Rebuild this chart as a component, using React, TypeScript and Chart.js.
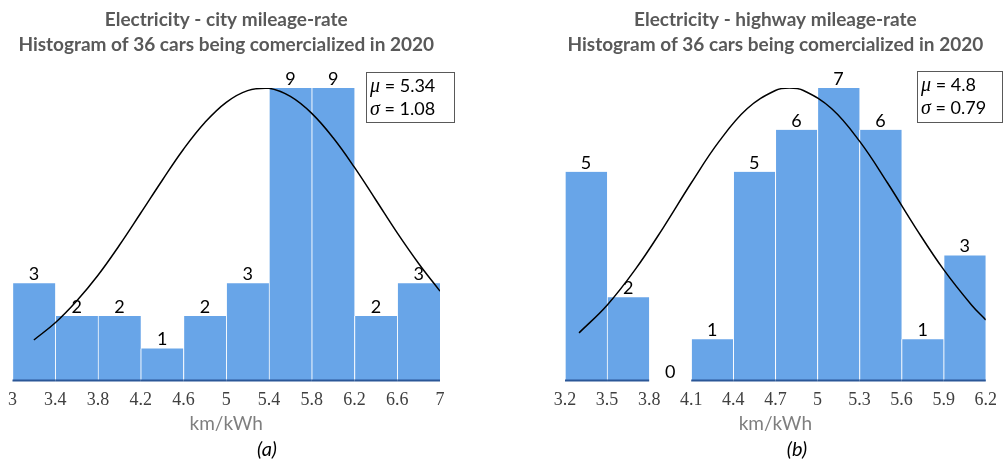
import React, { useEffect, useRef } from "react";
import { Chart, registerables } from "chart.js";

Chart.register(...registerables);

// ---------- Data: (a) city mileage-rate ----------
const cityBinCenters = [3.2, 3.6, 4.0, 4.4, 4.8, 5.2, 5.6, 6.0, 6.4, 6.8];
const cityCounts = [3, 2, 2, 1, 2, 3, 9, 9, 2, 3];
const cityTickValues = [3, 3.4, 3.8, 4.2, 4.6, 5, 5.4, 5.8, 6.2, 6.6, 7];
const cityTickLabels = ["3", "3.4", "3.8", "4.2", "4.6", "5", "5.4", "5.8", "6.2", "6.6", "7"];
const cityCurveX = [3.2, 3.4, 3.6, 3.8, 4.0, 4.2, 4.4, 4.6, 4.8, 5.0, 5.2, 5.4, 5.6, 5.8, 6.0, 6.2, 6.4, 6.6, 6.8, 7.0];
const cityCurveY = [1.26, 1.79, 2.46, 3.25, 4.17, 5.16, 6.16, 7.12, 7.94, 8.56, 8.92, 8.99, 8.74, 8.22, 7.47, 6.56, 5.56, 4.55, 3.61, 2.76];
const cityMu = "5.34";
const citySigma = "1.08";

// ---------- Data: (b) highway mileage-rate ----------
const hwyBinCenters = [3.35, 3.65, 3.95, 4.25, 4.55, 4.85, 5.15, 5.45, 5.75, 6.05];
const hwyCounts = [5, 2, 0, 1, 5, 6, 7, 6, 1, 3];
const hwyTickValues = [3.2, 3.5, 3.8, 4.1, 4.4, 4.7, 5.0, 5.3, 5.6, 5.9, 6.2];
const hwyTickLabels = ["3.2", "3.5", "3.8", "4.1", "4.4", "4.7", "5", "5.3", "5.6", "5.9", "6.2"];
const hwyCurveX = [3.3, 3.5, 3.7, 3.9, 4.1, 4.3, 4.5, 4.7, 4.8, 4.9, 5.1, 5.3, 5.5, 5.7, 5.9, 6.1, 6.2];
const hwyCurveY = [1.15, 1.81, 2.66, 3.66, 4.73, 5.73, 6.51, 6.94, 7.0, 6.94, 6.51, 5.73, 4.73, 3.66, 2.66, 1.81, 1.46];
const hwyMu = "4.8";
const hwySigma = "0.79";

const titleLine2 = "Histogram of 36 cars being comercialized in 2020";
const xAxisTitle = "km/kWh";

const BAR_COLOR = "#68A5E8";
const BASE_COLOR = "#2B5797";
const SANS = "Lato, 'Noto Sans', sans-serif";
const SERIF = "'Liberation Serif', 'DejaVu Serif', serif";

type PanelProps = {
  width: number;
  height: number;
  centers: number[];
  counts: number[];
  tickValues: number[];
  tickLabels: string[];
  curveX: number[];
  curveY: number[];
  xMin: number;
  xMax: number;
  yMax: number;
  padLeft: number;
  padRight: number;
  title1: string;
  caption: string;
  captionX: number;
  mu: string;
  sigma: string;
  box: { x: number; y: number; w: number; h: number };
};

function Panel(p: PanelProps) {
  const ref = useRef<HTMLCanvasElement | null>(null);

  useEffect(() => {
    const canvas = ref.current;
    if (!canvas) return;

    // dark blue bottom edge of each non-empty bar (drawn before the curve)
    const barBasePlugin = {
      id: "barBase",
      beforeDatasetDraw(chart: any, args: any) {
        if (args.index !== 0) return;
        const { ctx } = chart;
        const meta = chart.getDatasetMeta(1);
        ctx.save();
        ctx.strokeStyle = BASE_COLOR;
        ctx.lineWidth = 2;
        meta.data.forEach((el: any, i: number) => {
          if (!p.counts[i]) return;
          const half = el.width / 2;
          ctx.beginPath();
          ctx.moveTo(el.x - half, el.base - 0.5);
          ctx.lineTo(el.x + half, el.base - 0.5);
          ctx.stroke();
        });
        ctx.restore();
      },
    };

    const labelsPlugin = {
      id: "countLabels",
      afterDatasetsDraw(chart: any) {
        const { ctx } = chart;
        const meta = chart.getDatasetMeta(1);
        ctx.save();
        ctx.fillStyle = "#000";
        ctx.font = `18px ${SANS}`;
        ctx.textAlign = "center";
        ctx.textBaseline = "alphabetic";
        meta.data.forEach((el: any, i: number) => {
          ctx.fillText(String(p.counts[i]), el.x, el.y - 3);
        });
        ctx.restore();
      },
    };

    const overlayPlugin = {
      id: "overlay",
      afterDraw(chart: any) {
        const { ctx, chartArea } = chart;
        const cx = (chartArea.left + chartArea.right) / 2;
        ctx.save();
        ctx.textAlign = "center";
        ctx.textBaseline = "alphabetic";
        ctx.fillStyle = "#595959";
        ctx.font = `bold 19px ${SANS}`;
        ctx.fillText(p.title1, cx, 26);
        ctx.fillText(titleLine2, cx, 51);

        ctx.fillStyle = "#7f7f7f";
        ctx.font = `19px ${SANS}`;
        ctx.fillText(xAxisTitle, cx, 430);

        ctx.fillStyle = "#000";
        ctx.font = `italic 20px ${SANS}`;
        ctx.fillText(p.caption, p.captionX, 456);

        // stats box
        const b = p.box;
        ctx.fillStyle = "#fff";
        ctx.fillRect(b.x, b.y, b.w, b.h);
        ctx.strokeStyle = "#595959";
        ctx.lineWidth = 1;
        ctx.strokeRect(b.x + 0.5, b.y + 0.5, b.w, b.h);
        ctx.textAlign = "left";
        ctx.fillStyle = "#000";
        const lines: [string, string][] = [
          ["\u03bc", " = " + p.mu],
          ["\u03c3", " = " + p.sigma],
        ];
        lines.forEach(([sym, rest], i) => {
          const y = b.y + 20 + i * 23;
          ctx.font = `italic 20px ${SERIF}`;
          ctx.fillText(sym, b.x + 4, y);
          const w = ctx.measureText(sym).width;
          ctx.font = `18px ${SANS}`;
          ctx.fillText(rest, b.x + 4 + w, y);
        });
        ctx.restore();
      },
    };

    const chart = new Chart(canvas, {
      type: "bar",
      data: {
        datasets: [
          {
            type: "line",
            data: p.curveX.map((x, i) => ({ x, y: p.curveY[i] })),
            borderColor: "#000",
            borderWidth: 1.5,
            pointRadius: 0,
            tension: 0.4,
            fill: false,
            order: 0,
          } as any,
          {
            type: "bar",
            data: p.centers.map((x, i) => ({ x, y: p.counts[i] })),
            backgroundColor: BAR_COLOR,
            borderColor: "#ffffff",
            borderWidth: { left: 1, right: 0, top: 0, bottom: 0 },
            borderSkipped: false,
            barPercentage: 1,
            categoryPercentage: 1,
            order: 1,
          } as any,
        ],
      },
      options: {
        responsive: false,
        animation: false,
        events: [],
        layout: {
          padding: { left: p.padLeft, right: p.padRight, top: 88, bottom: 50 },
        },
        plugins: {
          legend: { display: false },
          title: { display: false },
          tooltip: { enabled: false },
        },
        scales: {
          x: {
            type: "linear",
            offset: false,
            min: p.xMin,
            max: p.xMax,
            grid: { display: false, drawTicks: false, offset: false },
            border: { display: false },
            afterBuildTicks: (axis: any) => {
              axis.ticks = p.tickValues.map((v) => ({ value: v }));
            },
            afterFit: (scale: any) => {
              scale.height = 30;
            },
            ticks: {
              autoSkip: false,
              maxRotation: 0,
              minRotation: 0,
              padding: 8,
              color: "#404040",
              font: { family: SERIF, size: 18 },
              callback: (_v: any, i: number) => p.tickLabels[i],
            },
          },
          y: {
            display: false,
            min: 0,
            max: p.yMax,
          },
        },
      },
      plugins: [barBasePlugin, labelsPlugin, overlayPlugin],
    });

    return () => chart.destroy();
  }, []);

  return <canvas ref={ref} width={p.width} height={p.height} style={{ display: "block" }} />;
}

export default function App() {
  useEffect(() => {
    document.body.style.margin = "0";
  }, []);
  return (
    <div style={{ position: "relative", width: 1005, height: 461, background: "#fff" }}>
      <div style={{ position: "absolute", left: 0, top: 0 }}>
        <Panel
          width={500}
          height={461}
          centers={cityBinCenters}
          counts={cityCounts}
          tickValues={cityTickValues}
          tickLabels={cityTickLabels}
          curveX={cityCurveX}
          curveY={cityCurveY}
          xMin={3}
          xMax={7}
          yMax={9}
          padLeft={12}
          padRight={60}
          title1="Electricity - city mileage-rate"
          caption="(a)"
          captionX={267}
          mu={cityMu}
          sigma={citySigma}
          box={{ x: 366, y: 72, w: 88, h: 50 }}
        />
      </div>
      <div style={{ position: "absolute", left: 500, top: 0 }}>
        <Panel
          width={505}
          height={461}
          centers={hwyBinCenters}
          counts={hwyCounts}
          tickValues={hwyTickValues}
          tickLabels={hwyTickLabels}
          curveX={hwyCurveX}
          curveY={hwyCurveY}
          xMin={3.2}
          xMax={6.2}
          yMax={7}
          padLeft={65}
          padRight={13}
          title1="Electricity - highway mileage-rate"
          caption="(b)"
          captionX={297}
          mu={hwyMu}
          sigma={hwySigma}
          box={{ x: 417, y: 71, w: 85, h: 51 }}
        />
      </div>
    </div>
  );
}
